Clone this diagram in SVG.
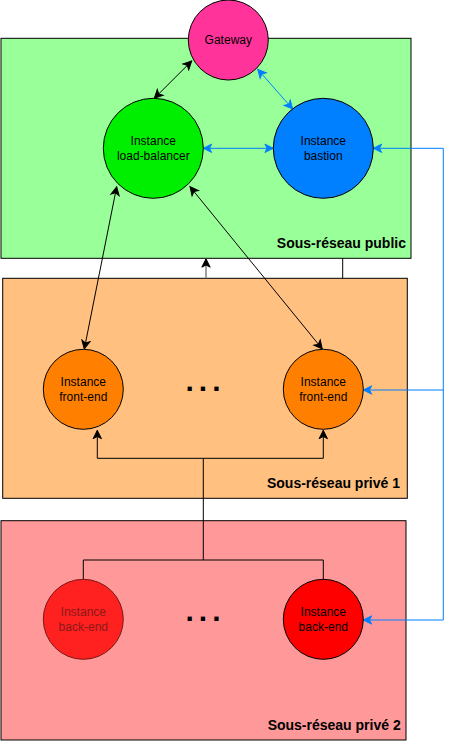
<svg xmlns="http://www.w3.org/2000/svg" width="453" height="741" viewBox="0 0 453 741">
<style>
.zone{stroke:#000;stroke-width:1}
.node{stroke:#000;stroke-width:1}
.lbl{font-family:"Liberation Sans",Arial,sans-serif;font-size:12px;text-anchor:middle;fill:#000}
.zlbl{font-family:"Liberation Sans",Arial,sans-serif;font-size:14px;font-weight:bold;text-anchor:end;fill:#000}
.dots{font-family:"Liberation Sans",Arial,sans-serif;font-size:30px;font-weight:bold;letter-spacing:5px;fill:#000}
.k{stroke:#000;stroke-width:1;fill:none}
.b{stroke:#007FFF;stroke-width:1;fill:none}
</style>
<defs>
<marker id="ak" markerUnits="userSpaceOnUse" markerWidth="12" markerHeight="12" viewBox="-8 -5 10 10" refX="0" refY="0" orient="auto-start-reverse">
<path d="M0,0 L-7,-3.5 L-5.2,0 L-7,3.5 Z" fill="#000" stroke="#000" stroke-width="0.8"/>
</marker>
<marker id="ab" markerUnits="userSpaceOnUse" markerWidth="12" markerHeight="12" viewBox="-8 -5 10 10" refX="0" refY="0" orient="auto-start-reverse">
<path d="M0,0 L-7,-3.5 L-5.2,0 L-7,3.5 Z" fill="#007FFF" stroke="#007FFF" stroke-width="0.8"/>
</marker>
</defs>

<g id="zone-public">
<rect class="zone" x="1" y="38.3" width="410" height="220" fill="#99FF99"/>
<text class="zlbl" x="406" y="248.3">Sous-réseau public</text>
</g>
<g id="zone-prive1">
<rect class="zone" x="2.7" y="278.3" width="404.6" height="220" fill="#FFC080"/>
<text class="zlbl" x="400" y="488.3">Sous-réseau privé 1</text>
</g>
<g id="zone-prive2">
<rect class="zone" x="1" y="520.7" width="405" height="219.3" fill="#FF9999"/>
<text class="zlbl" x="400.7" y="730.3">Sous-réseau privé 2</text>
</g>

<g id="connectors">
<line class="k" x1="154.3" y1="98.3" x2="191.7" y2="61" marker-start="url(#ak)" marker-end="url(#ak)"/>
<line class="b" x1="257.7" y1="69.3" x2="292.7" y2="109" marker-start="url(#ab)" marker-end="url(#ab)"/>
<line class="b" x1="203.3" y1="148.3" x2="273.3" y2="148.3" marker-start="url(#ab)" marker-end="url(#ab)"/>
<line class="k" x1="116.7" y1="186.7" x2="84.3" y2="349" marker-start="url(#ak)" marker-end="url(#ak)"/>
<line class="k" x1="190" y1="186.7" x2="322.3" y2="349" marker-start="url(#ak)" marker-end="url(#ak)"/>
<path class="b" d="M373.3,148.3 L443.3,148.3 L443.3,390 L363.3,390" marker-start="url(#ab)" marker-end="url(#ab)"/>
<path class="b" d="M443.3,390 L443.3,620 L363.3,620" marker-end="url(#ab)"/>
<line x1="206" y1="278.3" x2="206" y2="258.8" stroke="#808080" stroke-width="1.5" marker-end="url(#ak)"/>
<line class="k" x1="342.7" y1="258.3" x2="342.7" y2="278.3"/>
<path class="k" d="M203.3,560 L203.3,458.3"/>
<path class="k" d="M203.3,458.3 L97.3,458.3 L97.3,430.3" marker-end="url(#ak)"/>
<path class="k" d="M203.3,458.3 L323.3,458.3 L323.3,430.3" marker-end="url(#ak)"/>
<path class="k" d="M83.3,579.3 L83.3,560 L323.3,560 L323.3,579.3"/>
</g>

<g id="gateway">
<circle class="node" cx="228.3" cy="40" r="40" fill="#FF3399"/>
<text class="lbl" x="228.3" y="44">Gateway</text>
</g>
<g id="load-balancer">
<circle class="node" cx="153.3" cy="148.3" r="50" fill="#00EE00"/>
<text class="lbl" x="153.3" y="145">Instance</text>
<text class="lbl" x="153.3" y="159.5">load-balancer</text>
</g>
<g id="bastion">
<circle class="node" cx="323.3" cy="148.3" r="50" fill="#007FFF"/>
<text class="lbl" x="323.3" y="145">Instance</text>
<text class="lbl" x="323.3" y="159.5">bastion</text>
</g>
<g id="front-end-1">
<circle class="node" cx="83.3" cy="389.3" r="40" fill="#FF8000"/>
<text class="lbl" x="83.3" y="386">Instance</text>
<text class="lbl" x="83.3" y="400.6">front-end</text>
</g>
<g id="front-end-dots">
<text class="dots" x="185.5" y="390.5">...</text>
</g>
<g id="front-end-2">
<circle class="node" cx="323.3" cy="389.3" r="40" fill="#FF8000"/>
<text class="lbl" x="323.3" y="386">Instance</text>
<text class="lbl" x="323.3" y="400.6">front-end</text>
</g>
<g id="back-end-1">
<circle cx="83.3" cy="619.3" r="40" fill="#FF2020" stroke="#7A1515" stroke-width="1"/>
<text class="lbl" x="83.3" y="616" style="fill:#8A1A1A">Instance</text>
<text class="lbl" x="83.3" y="630.6" style="fill:#8A1A1A">back-end</text>
</g>
<g id="back-end-dots">
<text class="dots" x="185.5" y="620.5">...</text>
</g>
<g id="back-end-2">
<circle class="node" cx="323.3" cy="619.3" r="40" fill="#FF0000"/>
<text class="lbl" x="323.3" y="616">Instance</text>
<text class="lbl" x="323.3" y="630.6">back-end</text>
</g>
</svg>
